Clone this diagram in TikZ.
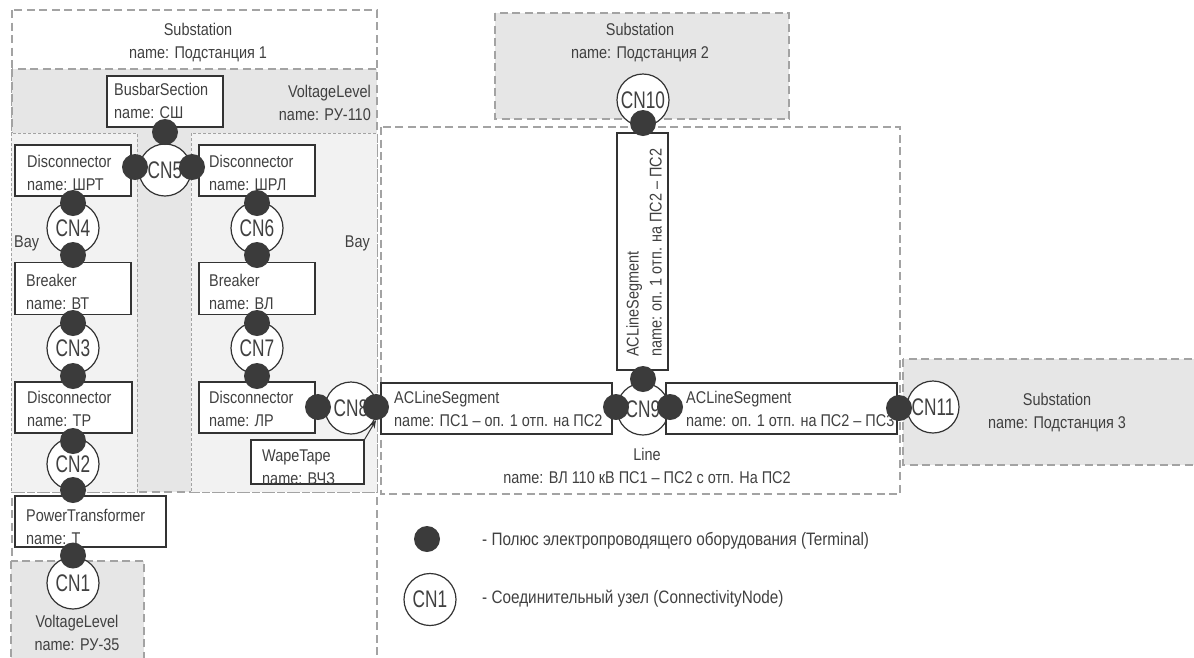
\documentclass[tikz,border=0pt]{standalone}
\usepackage{fontspec}
\setmainfont{Liberation Sans}[FakeStretch=0.85]
\newfontfamily\cnfont{Liberation Sans}[FakeStretch=0.72]
\usetikzlibrary{arrows.meta}

\definecolor{ink}{HTML}{404040}
\definecolor{edgecol}{HTML}{333333}
\definecolor{polecol}{HTML}{3B3B3B}
\definecolor{framecol}{HTML}{A3A3A3}
\definecolor{levelfill}{HTML}{E6E6E6}
\definecolor{bayfill}{HTML}{F2F2F2}

\tikzset{
  region/.style={draw=framecol, line width=1.2pt, dash pattern=on 8pt off 4.5pt},
  bayframe/.style={draw=framecol, line width=0.9pt, dash pattern=on 3pt off 2pt},
  eqbox/.style={draw=edgecol, fill=white, line width=1.3pt, inner sep=0pt},
  lbl/.style={text=ink, font=\fontsize{17}{23}\selectfont, inner sep=0pt},
  legendlbl/.style={text=ink, font=\fontsize{18}{23}\selectfont, inner sep=0pt},
  cnode/.style={circle, draw=edgecol, fill=white, line width=1.2pt,
    minimum size=52pt, inner sep=0pt, text=ink, font=\cnfont\fontsize{24}{24}\selectfont},
  pole/.style={circle, fill=polecol, minimum size=26pt, inner sep=0pt},
}

% two text lines, first baseline at (x,y), second 23pt lower
\newcommand\twolines[5]{%
  \node[lbl, anchor=base west] (#1-a) at (#2,#3) {#4};
  \node[lbl, anchor=base west] (#1-b) at (#2,#3+23) {#5};}
\newcommand\twocentered[5]{%
  \node[lbl, anchor=base] (#1-a) at (#2,#3) {#4};
  \node[lbl, anchor=base] (#1-b) at (#2,#3+23) {#5};}

\begin{document}
\begin{tikzpicture}[x=1pt,y=-1pt]
\useasboundingbox (0,0) rectangle (1194,657);
\clip (0,0) rectangle (1194,657);

% containers
\draw[region] (12,10) rectangle (377,700);
\path[region, fill=levelfill] (12,69) rectangle (377,492);
\path[bayframe, fill=bayfill] (11,133) rectangle (137,492);
\path[bayframe, fill=bayfill] (191,133) rectangle (377,492);
\draw[region] (381,127) rectangle (900,494);
\path[region, fill=levelfill] (495,13) rectangle (789,119);
\path[region, fill=levelfill] (903,359) rectangle (1210,465);
\path[region, fill=levelfill] (11,561) rectangle (144,700);

% container captions
\twocentered{sub1}{198}{35}{Substation}{name: Подстанция 1}
\twocentered{sub2}{640}{35}{Substation}{name: Подстанция 2}
\twocentered{sub3}{1057}{405}{Substation}{name: Подстанция 3}
\twocentered{line}{647}{460}{Line}{name: ВЛ 110 кВ ПС1 – ПС2 с отп. На ПС2}
\twocentered{vl35}{77}{627}{VoltageLevel}{name: РУ-35}
\node[lbl, anchor=base east] (vl110-a) at (371,97) {VoltageLevel};
\node[lbl, anchor=base east] (vl110-b) at (371,120) {name: РУ-110};
\node[lbl, anchor=base west] (bay1) at (14,247) {Bay};
\node[lbl, anchor=base east] (bay2) at (370,247) {Bay};

% connectivity nodes
\node[cnode] (cn1) at (73,583) {CN1};
\node[cnode] (cn2) at (73,464) {CN2};
\node[cnode] (cn3) at (73,348) {CN3};
\node[cnode] (cn4) at (73,228) {CN4};
\node[cnode] (cn5) at (165,170) {CN5};
\node[cnode] (cn6) at (257,228) {CN6};
\node[cnode] (cn7) at (257,348) {CN7};
\node[cnode] (cn8) at (351,408) {CN8};
\node[cnode] (cn9) at (643,409) {CN9};
\node[cnode] (cn10) at (643,100) {CN10};
\node[cnode] (cn11) at (933,407) {CN11};

% equipment
\node[eqbox, minimum width=116pt, minimum height=51pt] (bus) at (165,101.5) {};
\twolines{bus}{114}{95}{BusbarSection}{name: СШ}
\node[eqbox, minimum width=116pt, minimum height=51pt] (dsrt) at (73,170.5) {};
\twolines{dsrt}{27}{167}{Disconnector}{name: ШРТ}
\node[eqbox, minimum width=116pt, minimum height=51pt] (dsrl) at (257,170.5) {};
\twolines{dsrl}{209}{167}{Disconnector}{name: ШРЛ}
\node[eqbox, minimum width=116pt, minimum height=52pt] (brvt) at (73,288.5) {};
\twolines{brvt}{26}{286}{Breaker}{name: ВТ}
\node[eqbox, minimum width=116pt, minimum height=52pt] (brvl) at (257,288.5) {};
\twolines{brvl}{209}{286}{Breaker}{name: ВЛ}
\node[eqbox, minimum width=117pt, minimum height=51pt] (dstr) at (73.5,407.5) {};
\twolines{dstr}{27}{403}{Disconnector}{name: ТР}
\node[eqbox, minimum width=116pt, minimum height=51pt] (dslr) at (257,407.5) {};
\twolines{dslr}{209}{403}{Disconnector}{name: ЛР}
\node[eqbox, minimum width=151pt, minimum height=51pt] (pt) at (90.5,521.5) {};
\twolines{pt}{26}{521}{PowerTransformer}{name: Т}
\node[eqbox, minimum width=113pt, minimum height=44pt] (wt) at (307.5,462) {};
\twolines{wt}{262}{461}{WapeTape}{name: ВЧЗ}
\node[eqbox, minimum width=231pt, minimum height=51pt] (acl1) at (496.5,408.5) {};
\twolines{acl1}{394}{403}{ACLineSegment}{name: ПС1 – оп. 1 отп. на ПС2}
\node[eqbox, minimum width=231pt, minimum height=51pt] (acl2) at (781.5,408.5) {};
\twolines{acl2}{686}{403}{ACLineSegment}{name: оп. 1 отп. на ПС2 – ПС3}
\node[eqbox, minimum width=51pt, minimum height=237pt] (aclv) at (642.5,251.5) {};
\node[lbl, rotate=90, anchor=base west] (aclv-a) at (638.5,357) {ACLineSegment};
\node[lbl, rotate=90, anchor=base west] (aclv-b) at (661.5,357) {name: оп. 1 отп. на ПС2 – ПС2};

% terminals
\node[pole] (t-dsrt) at (73,203) {};
\node[pole] (t-brvt1) at (73,255) {};
\node[pole] (t-brvt2) at (73,323) {};
\node[pole] (t-dstr1) at (73,376) {};
\node[pole] (t-dstr2) at (73,441) {};
\node[pole] (t-pt1) at (73,490) {};
\node[pole] (t-pt2) at (73,555.5) {};
\node[pole] (t-dsrl) at (257,203) {};
\node[pole] (t-brvl1) at (257,255) {};
\node[pole] (t-brvl2) at (257,323) {};
\node[pole] (t-dslr1) at (257,376) {};
\node[pole] (t-dslr2) at (318,407) {};
\node[pole] (t-acl1a) at (376,407) {};
\node[pole] (t-bus) at (165,132) {};
\node[pole] (t-dsrt5) at (135,167) {};
\node[pole] (t-dsrl5) at (192,167) {};
\node[pole] (t-acl1b) at (616,407) {};
\node[pole] (t-acl2a) at (670,407) {};
\node[pole] (t-aclv1) at (643,379) {};
\node[pole] (t-aclv2) at (643,123) {};
\node[pole] (t-acl2b) at (899,408) {};

% wave trap pointer
\draw[draw=edgecol, line width=1pt, -{Stealth[length=8pt,width=6pt]}] (wt.north east) -- (t-acl1a.south);

% legend
\node[pole] (leg-pole) at (427,539) {};
\node[legendlbl, anchor=base west] (leg-pole-t) at (482,545) {- Полюс электропроводящего оборудования (Terminal)};
\node[cnode] (leg-cn) at (430,599.5) {CN1};
\node[legendlbl, anchor=base west] (leg-cn-t) at (482,603) {- Соединительный узел (ConnectivityNode)};
\end{tikzpicture}
\end{document}
